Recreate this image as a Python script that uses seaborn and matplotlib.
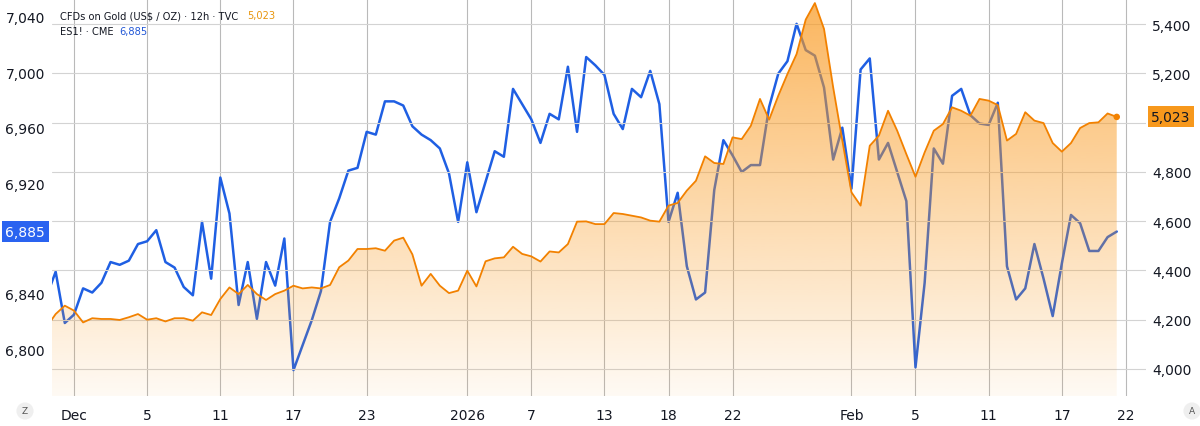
import matplotlib
matplotlib.use("Agg")
import matplotlib.pyplot as plt
import numpy as np
import pandas as pd
import seaborn as sns
from matplotlib.transforms import blended_transform_factory

# ES1! (CME), 12h closes -> left axis
es_close = [
    6838, 6856, 6819, 6825, 6844, 6841, 6848, 6863, 6861, 6864,
    6876, 6878, 6886, 6863, 6859, 6845, 6839, 6892, 6851, 6924,
    6898, 6832, 6863, 6822, 6863, 6846, 6880, 6785, 6803, 6821,
    6842, 6892, 6909, 6929, 6931, 6957, 6955, 6979, 6979, 6976,
    6961, 6955, 6951, 6945, 6927, 6892, 6935, 6899, 6921, 6943,
    6939, 6988, 6977, 6966, 6949, 6970, 6966, 7004, 6957, 7011,
    7005, 6998, 6970, 6959, 6988, 6982, 7001, 6977, 6892, 6913,
    6860, 6836, 6841, 6915, 6951, 6940, 6928, 6933, 6933, 6975,
    6999, 7008, 7035, 7016, 7012, 6989, 6937, 6960, 6916, 7002,
    7010, 6937, 6949, 6928, 6907, 6787, 6848, 6945, 6934, 6983,
    6988, 6969, 6963, 6962, 6978, 6860, 6836, 6844, 6876, 6851,
    6824, 6862, 6897, 6891, 6871, 6871, 6881, 6885,
]

# CFDs on Gold (TVC), 12h closes -> right axis
gold_close = [
    4170, 4223, 4257, 4237, 4189, 4206, 4203, 4203, 4199, 4210,
    4223, 4200, 4206, 4193, 4206, 4206, 4196, 4230, 4219, 4284,
    4331, 4304, 4341, 4304, 4280, 4304, 4318, 4338, 4327, 4331,
    4327, 4341, 4413, 4440, 4487, 4487, 4490, 4480, 4521, 4533,
    4465, 4338, 4386, 4338, 4308, 4318, 4399, 4335, 4437, 4449,
    4453, 4496, 4467, 4457, 4436, 4477, 4473, 4507, 4598, 4599,
    4588, 4588, 4633, 4629, 4622, 4615, 4602, 4598, 4663, 4674,
    4724, 4764, 4863, 4836, 4832, 4940, 4933, 4987, 5096, 5012,
    5109, 5197, 5278, 5418, 5485, 5380, 5143, 4927, 4717, 4663,
    4906, 4947, 5048, 4967, 4872, 4780, 4879, 4967, 4994, 5062,
    5048, 5028, 5096, 5089, 5071, 4927, 4954, 5042, 5008, 4998,
    4917, 4882, 4917, 4978, 4998, 5001, 5037, 5023,
]

# date ticks, placed on the bar index (TradingView skips market gaps)
date_tick_bars = [3, 11, 19, 27, 35, 46, 53, 61, 68, 75, 88, 95, 103, 111, 118]
date_tick_labels = ["Dec", "5", "11", "17", "23", "2026", "7", "13", "18",
                    "22", "Feb", "5", "11", "17", "22"]
es_ticks = [6800, 6840, 6920, 6960, 7000, 7040]
gold_ticks = [4000, 4200, 4400, 4600, 4800, 5000, 5200, 5400]
gold_hidden = [5000]  # label covered by the last-price box

es_last = "6,885"
gold_last = "5,023"

# --------------------------------------------------------------------------
# style
# --------------------------------------------------------------------------
sns.set_theme(style="white")
plt.rcParams["font.family"] = ["DejaVu Sans"]
TEXT = "#131722"
BLUE = "#1f5fe3"
BLUE_BOX = "#2a63f0"
ORANGE = "#f28100"
ORANGE_BOX = "#f7981c"
FILL_RGB = (0.98, 0.60, 0.12)

df = pd.DataFrame({"bar": np.arange(len(es_close)),
                   "es": es_close, "gold": gold_close})

fig = plt.figure(figsize=(12, 4.27), dpi=100)
ax = fig.add_axes([52 / 1200, 30 / 427, 1094 / 1200, 397 / 427])
ax2 = ax.twinx()

x_lo, x_hi = 0.6, 120.2
es_lo, es_hi = 6766.3, 7052.9
gold_lo, gold_hi = 3890.4, 5501.5

# ES line (sits under the gold area)
sns.lineplot(data=df, x="bar", y="es", ax=ax, color=BLUE, linewidth=1.8,
             zorder=3)

# Gold area with vertical gradient, clipped to the area under the line
poly = ax2.fill_between(df["bar"], df["gold"], gold_lo,
                        facecolor="none", edgecolor="none")
alpha = np.linspace(0.72, 0.05, 256)
img = np.zeros((256, 1, 4))
img[:, 0, 0], img[:, 0, 1], img[:, 0, 2] = FILL_RGB
img[:, 0, 3] = alpha
im = ax2.imshow(img, extent=[x_lo, x_hi, gold_lo, gold_hi], origin="upper",
                aspect="auto", zorder=1, interpolation="bilinear")
im.set_clip_path(poly.get_paths()[0], transform=ax2.transData)

sns.lineplot(data=df, x="bar", y="gold", ax=ax2, color=ORANGE,
             linewidth=1.3, zorder=3)
sns.scatterplot(x=[df["bar"].iloc[-1]], y=[df["gold"].iloc[-1]], ax=ax2,
                color=ORANGE, s=22, edgecolor="none", zorder=4)

# limits / ticks
ax.set_xlim(x_lo, x_hi)
ax.set_ylim(es_lo, es_hi)
ax2.set_ylim(gold_lo, gold_hi)

ax.set_xticks(date_tick_bars)
ax.set_xticklabels(date_tick_labels)
ax.set_yticks(es_ticks)
ax.set_yticklabels([f"{v:,}" for v in es_ticks])
ax2.set_yticks(gold_ticks)
ax2.set_yticklabels(["" if v in gold_hidden else f"{v:,}" for v in gold_ticks])

ax.tick_params(axis="x", length=0, pad=9, labelsize=10, labelcolor=TEXT)
ax.tick_params(axis="y", length=0, pad=5, labelsize=10, labelcolor=TEXT)
ax2.tick_params(axis="y", length=0, pad=4.5, labelsize=10, labelcolor=TEXT)
ax.set_xlabel("")
ax.set_ylabel("")
ax2.set_ylabel("")

ax.grid(axis="x", color="#b9b9b9", linewidth=0.8)
ax.grid(axis="y", visible=False)
ax2.grid(axis="y", color="#d3d3d3", linewidth=0.8)
ax2.grid(axis="x", visible=False)
ax2.set_axisbelow(True)
for a in (ax, ax2):
    for s in a.spines.values():
        s.set_visible(False)

# last-value price labels
ax.text(-0.0245, 6885, es_last, transform=blended_transform_factory(ax.transAxes, ax.transData),
        ha="center", va="center", fontsize=10, color="white", zorder=10, clip_on=False,
        bbox=dict(boxstyle="square,pad=0.25", facecolor=BLUE_BOX, edgecolor="none"))
ax2.text(1.0229, 5023, gold_last, transform=blended_transform_factory(ax2.transAxes, ax2.transData),
         ha="center", va="center", fontsize=10, color=TEXT, zorder=10, clip_on=False,
         bbox=dict(boxstyle="square,pad=0.25", facecolor=ORANGE_BOX, edgecolor="none"))

# legend lines top-left
LEG_FS = 7.1
t1 = fig.text(60 / 1200, 1 - 16.5 / 427, r"CFDs on Gold (US\$ / OZ) · 12h · TVC",
              fontsize=LEG_FS, color=TEXT, va="center", ha="left")
fig.text(247 / 1200, 1 - 16.5 / 427, gold_last, fontsize=LEG_FS, color="#e8950c",
         va="center", ha="left")
fig.text(60 / 1200, 1 - 32.3 / 427, "ES1! · CME", fontsize=LEG_FS, color=TEXT,
         va="center", ha="left")
fig.text(119 / 1200, 1 - 32.3 / 427, es_last, fontsize=LEG_FS, color="#2257d6",
         va="center", ha="left")

# corner buttons
for xp, ch in ((25, "Z"), (1192, "A")):
    fig.text(xp / 1200, 15 / 427, ch, fontsize=6.5, color="#555",
             ha="center", va="center",
             bbox=dict(boxstyle="circle,pad=0.45", facecolor="#efefef", edgecolor="none"))

fig.savefig("out.png", dpi=100)
